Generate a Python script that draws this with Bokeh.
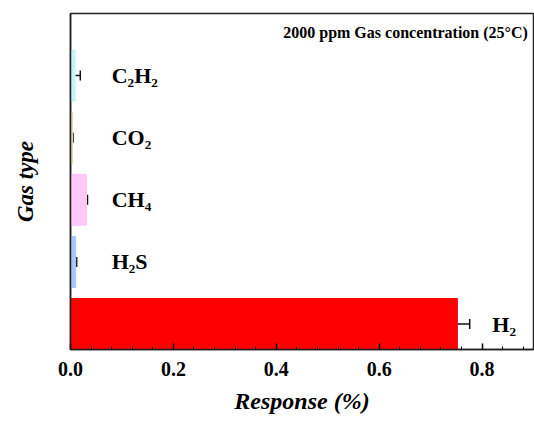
from bokeh.plotting import figure
from bokeh.models import (ColumnDataSource, Whisker, TeeHead, FixedTicker, Range1d, Label,
                          PrintfTickFormatter)
from bokeh.core.properties import value
from bokeh.embed import file_html
from bokeh.resources import INLINE

gases = ["H₂", "H₂S", "CH₄", "CO₂", "C₂H₂"]
ypos = [1, 2, 3, 4, 5]
response = [0.752, 0.010, 0.031, 0.004, 0.009]
error = [0.024, 0.002, 0.002, 0.001, 0.010]
colors = ["#ff0000", "#a8c8f8", "#ffc8fa", "#e0dcb0", "#c4f4f8"]
label_x = [0.820, 0.080, 0.080, 0.080, 0.080]
x_ticks = [0.0, 0.2, 0.4, 0.6, 0.8]

src = ColumnDataSource(dict(
    y=ypos, r=response, lo=[r - e for r, e in zip(response, error)],
    hi=[r + e for r, e in zip(response, error)], c=colors, name=gases, lx=label_x,
))

FONT = "Liberation Serif"
p = figure(width=534, height=421, output_backend="svg", toolbar_location=None,
           x_range=Range1d(0, 0.9), y_range=Range1d(0.59, 6.0),
           min_border_left=70, min_border_right=1, min_border_top=13, min_border_bottom=72)
p.xgrid.visible = False
p.ygrid.visible = False
p.outline_line_color = "#222222"
p.outline_line_width = 1.5

p.hbar(y="y", left=0, right="r", height=0.82, color="c", source=src)
p.add_layout(Whisker(base="y", lower="lo", upper="hi", dimension="width", source=src,
                     line_color="#111111", line_width=1.5,
                     upper_head=TeeHead(size=10, line_color="#111111", line_width=1.5),
                     lower_head=TeeHead(size=10, line_color="#111111", line_width=1.5)))
p.text(x="lx", y="y", text="name", source=src, text_font=value(FONT),
       text_font_size="22px", text_font_style="bold", text_baseline="middle",
       text_color="black")

p.add_layout(Label(x=0.889, y=5.69, text="2000 ppm Gas concentration (25°C)",
                   text_align="right", text_baseline="middle", text_font=FONT,
                   text_font_size="16px", text_font_style="bold", text_color="black"))

xa = p.xaxis[0]
xa.ticker = FixedTicker(ticks=x_ticks, minor_ticks=[i * 0.04 for i in range(23)])
xa.formatter = PrintfTickFormatter(format="%.1f")
xa.major_tick_in = 6
xa.major_tick_out = 0
xa.minor_tick_in = 3
xa.minor_tick_out = 0
xa.axis_line_color = "#222222"
xa.axis_line_width = 1.5
xa.major_tick_line_width = 1.5
xa.major_label_text_font = FONT
xa.major_label_text_font_style = "bold"
xa.major_label_text_font_size = "20px"
xa.major_label_text_color = "black"
xa.major_label_standoff = 12
xa.axis_label = "Response (%)"
xa.axis_label_text_font = FONT
xa.axis_label_text_font_style = "bold italic"
xa.axis_label_text_font_size = "24px"
xa.axis_label_text_color = "black"
xa.axis_label_standoff = 9

ya = p.yaxis[0]
ya.ticker = FixedTicker(ticks=[])
ya.axis_line_color = "#222222"
ya.axis_line_width = 1.5
ya.axis_label = "Gas type"
ya.axis_label_text_font = FONT
ya.axis_label_text_font_style = "bold italic"
ya.axis_label_text_font_size = "23px"
ya.axis_label_text_color = "black"
ya.axis_label_standoff = 33

open("out.html", "w").write(file_html(p, INLINE))
